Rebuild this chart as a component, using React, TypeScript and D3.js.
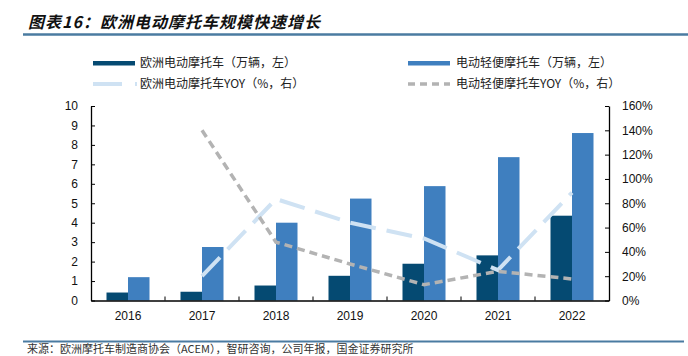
import React, { useEffect, useRef } from "react";
import * as d3 from "d3";

const years = ["2016", "2017", "2018", "2019", "2020", "2021", "2022"];
const euMoto = [0.41, 0.45, 0.77, 1.27, 1.89, 2.32, 4.36];
const lightMoto = [1.2, 2.75, 4.0, 5.24, 5.88, 7.37, 8.61];
const yoyYears = ["2017", "2018", "2019", "2020", "2021", "2022"];
const euMotoYoy = [0.2, 0.835, 0.64, 0.51, 0.25, 0.887];
const lightMotoYoy = [1.4, 0.48, 0.3, 0.13, 0.24, 0.177];
const leftTicks = [0, 1, 2, 3, 4, 5, 6, 7, 8, 9, 10];
const rightTicks = [0, 0.2, 0.4, 0.6, 0.8, 1.0, 1.2, 1.4, 1.6];

const title = "图表16：欧洲电动摩托车规模快速增长";
const legendLabels = [
  "欧洲电动摩托车（万辆，左）",
  "电动轻便摩托车（万辆，左）",
  "欧洲电动摩托车YOY（%，右）",
  "电动轻便摩托车YOY（%，右）",
];
const source = "来源：欧洲摩托车制造商协会（ACEM），智研咨询，公司年报，国金证券研究所";

const C_DARK = "#054a72";
const C_LIGHT = "#3f7fbf";
const C_BLUELINE = "#cfe2f3";
const C_GRAY = "#b3b3b3";
const C_RULE = "#4a7ba1";
const CJK = "'Noto Sans CJK SC', 'Liberation Sans', sans-serif";
const LAT = "'Liberation Sans', Arial, sans-serif";

export default function App() {
  const ref = useRef<SVGSVGElement | null>(null);

  useEffect(() => {
    const svg = d3.select(ref.current);
    svg.selectAll("*").remove();

    const left = 91, right = 609, top = 106, bottom = 300.5;

    const x = d3.scaleBand<string>().domain(years).range([left, right]).padding(0);
    const x1 = d3.scaleBand<string>().domain(["eu", "light"]).range([15.5, 58.5]).padding(0);
    const yL = d3.scaleLinear().domain([0, 10]).range([bottom, top]);
    const yR = d3.scaleLinear().domain([0, 1.6]).range([bottom, top]);

    // Title
    svg.append("text")
      .attr("x", 28).attr("y", 28)
      .attr("font-family", CJK)
      .attr("font-size", 16)
      .attr("font-weight", "bold")
      .attr("font-style", "italic")
      .attr("letter-spacing", 1)
      .attr("fill", "#111")
      .text(title);
    svg.append("line")
      .attr("x1", 23).attr("x2", 688).attr("y1", 34.5).attr("y2", 34.5)
      .attr("stroke", C_RULE).attr("stroke-width", 2.5);

    // Legend
    const lg = svg.append("g");
    lg.append("rect").attr("x", 93).attr("y", 61).attr("width", 42).attr("height", 4.5).attr("fill", C_DARK);
    lg.append("rect").attr("x", 408).attr("y", 61).attr("width", 42).attr("height", 4.5).attr("fill", C_LIGHT);
    lg.append("line").attr("x1", 93).attr("x2", 135).attr("y1", 84).attr("y2", 84)
      .attr("stroke", C_BLUELINE).attr("stroke-width", 4).attr("stroke-dasharray", "29 13");
    lg.append("line").attr("x1", 93 + 42).attr("x2", 137).attr("y1", 84).attr("y2", 84)
      .attr("stroke", C_BLUELINE).attr("stroke-width", 4);
    lg.append("line").attr("x1", 408).attr("x2", 450).attr("y1", 84).attr("y2", 84)
      .attr("stroke", C_GRAY).attr("stroke-width", 3.5).attr("stroke-dasharray", "7 5");
    const lpos = [[140, 63], [456, 63], [140, 84], [456, 84]];
    legendLabels.forEach((t, i) => {
      lg.append("text")
        .attr("x", lpos[i][0]).attr("y", lpos[i][1])
        .attr("dy", "0.36em")
        .attr("font-family", CJK).attr("font-size", 12).attr("fill", "#222")
        .text(t);
    });

    // Bars
    const bars = svg.append("g");
    years.forEach((yr, i) => {
      const x0 = x(yr)!;
      bars.append("rect")
        .attr("x", x0 + x1("eu")!).attr("width", x1.bandwidth())
        .attr("y", yL(euMoto[i])).attr("height", bottom - yL(euMoto[i]))
        .attr("fill", C_DARK);
      bars.append("rect")
        .attr("x", x0 + x1("light")!).attr("width", x1.bandwidth())
        .attr("y", yL(lightMoto[i])).attr("height", bottom - yL(lightMoto[i]))
        .attr("fill", C_LIGHT);
    });

    // Lines
    const cx = (yr: string) => x(yr)! + x.bandwidth() / 2;
    const line = d3.line<number>()
      .x((_, i) => cx(yoyYears[i]))
      .y((v) => yR(v));
    svg.append("path").attr("d", line(euMotoYoy)!)
      .attr("fill", "none").attr("stroke", C_BLUELINE).attr("stroke-width", 4)
      .attr("stroke-dasharray", "26 11");
    svg.append("path").attr("d", line(lightMotoYoy)!)
      .attr("fill", "none").attr("stroke", C_GRAY).attr("stroke-width", 3.5)
      .attr("stroke-dasharray", "8 5");

    // Left axis
    const axL = svg.append("g").attr("transform", `translate(${left},0)`)
      .call(d3.axisLeft(yL).tickValues(leftTicks).tickSize(-4).tickSizeOuter(0).tickPadding(13).tickFormat(d3.format("d")));
    axL.select(".domain").attr("stroke", "#000").attr("stroke-width", 1.3);
    axL.selectAll("line").attr("stroke", "#000");
    axL.selectAll("text").attr("font-family", LAT).attr("font-size", 12).attr("fill", "#111");

    // Right axis
    const axR = svg.append("g").attr("transform", `translate(${right},0)`)
      .call(d3.axisRight(yR).tickValues(rightTicks).tickSize(-4).tickSizeOuter(0).tickPadding(13).tickFormat(d3.format(".0%")));
    axR.select(".domain").attr("stroke", "#000").attr("stroke-width", 1.3);
    axR.selectAll("line").attr("stroke", "#000");
    axR.selectAll("text").attr("font-family", LAT).attr("font-size", 12).attr("fill", "#111");

    // Bottom axis
    const axB = svg.append("g").attr("transform", `translate(0,${bottom})`)
      .call(d3.axisBottom(x).tickSize(0).tickPadding(11));
    axB.select(".domain").attr("stroke", "#000").attr("stroke-width", 1.5);
    axB.selectAll("text").attr("font-family", LAT).attr("font-size", 12).attr("fill", "#111");
    years.slice(1).forEach((yr) => {
      axB.append("line").attr("x1", x(yr)!).attr("x2", x(yr)!).attr("y1", 0).attr("y2", -4)
        .attr("stroke", "#000").attr("stroke-width", 1);
    });

    // Footer
    svg.append("line")
      .attr("x1", 23).attr("x2", 684).attr("y1", 341.5).attr("y2", 341.5)
      .attr("stroke", C_RULE).attr("stroke-width", 2);
    svg.append("text")
      .attr("x", 27).attr("y", 353)
      .attr("font-family", CJK).attr("font-size", 11).attr("fill", "#333")
      .text(source);
  }, []);

  return (
    <svg
      ref={ref}
      width={688}
      height={356}
      style={{ position: "absolute", left: 0, top: 0, background: "#fff" }}
    />
  );
}
